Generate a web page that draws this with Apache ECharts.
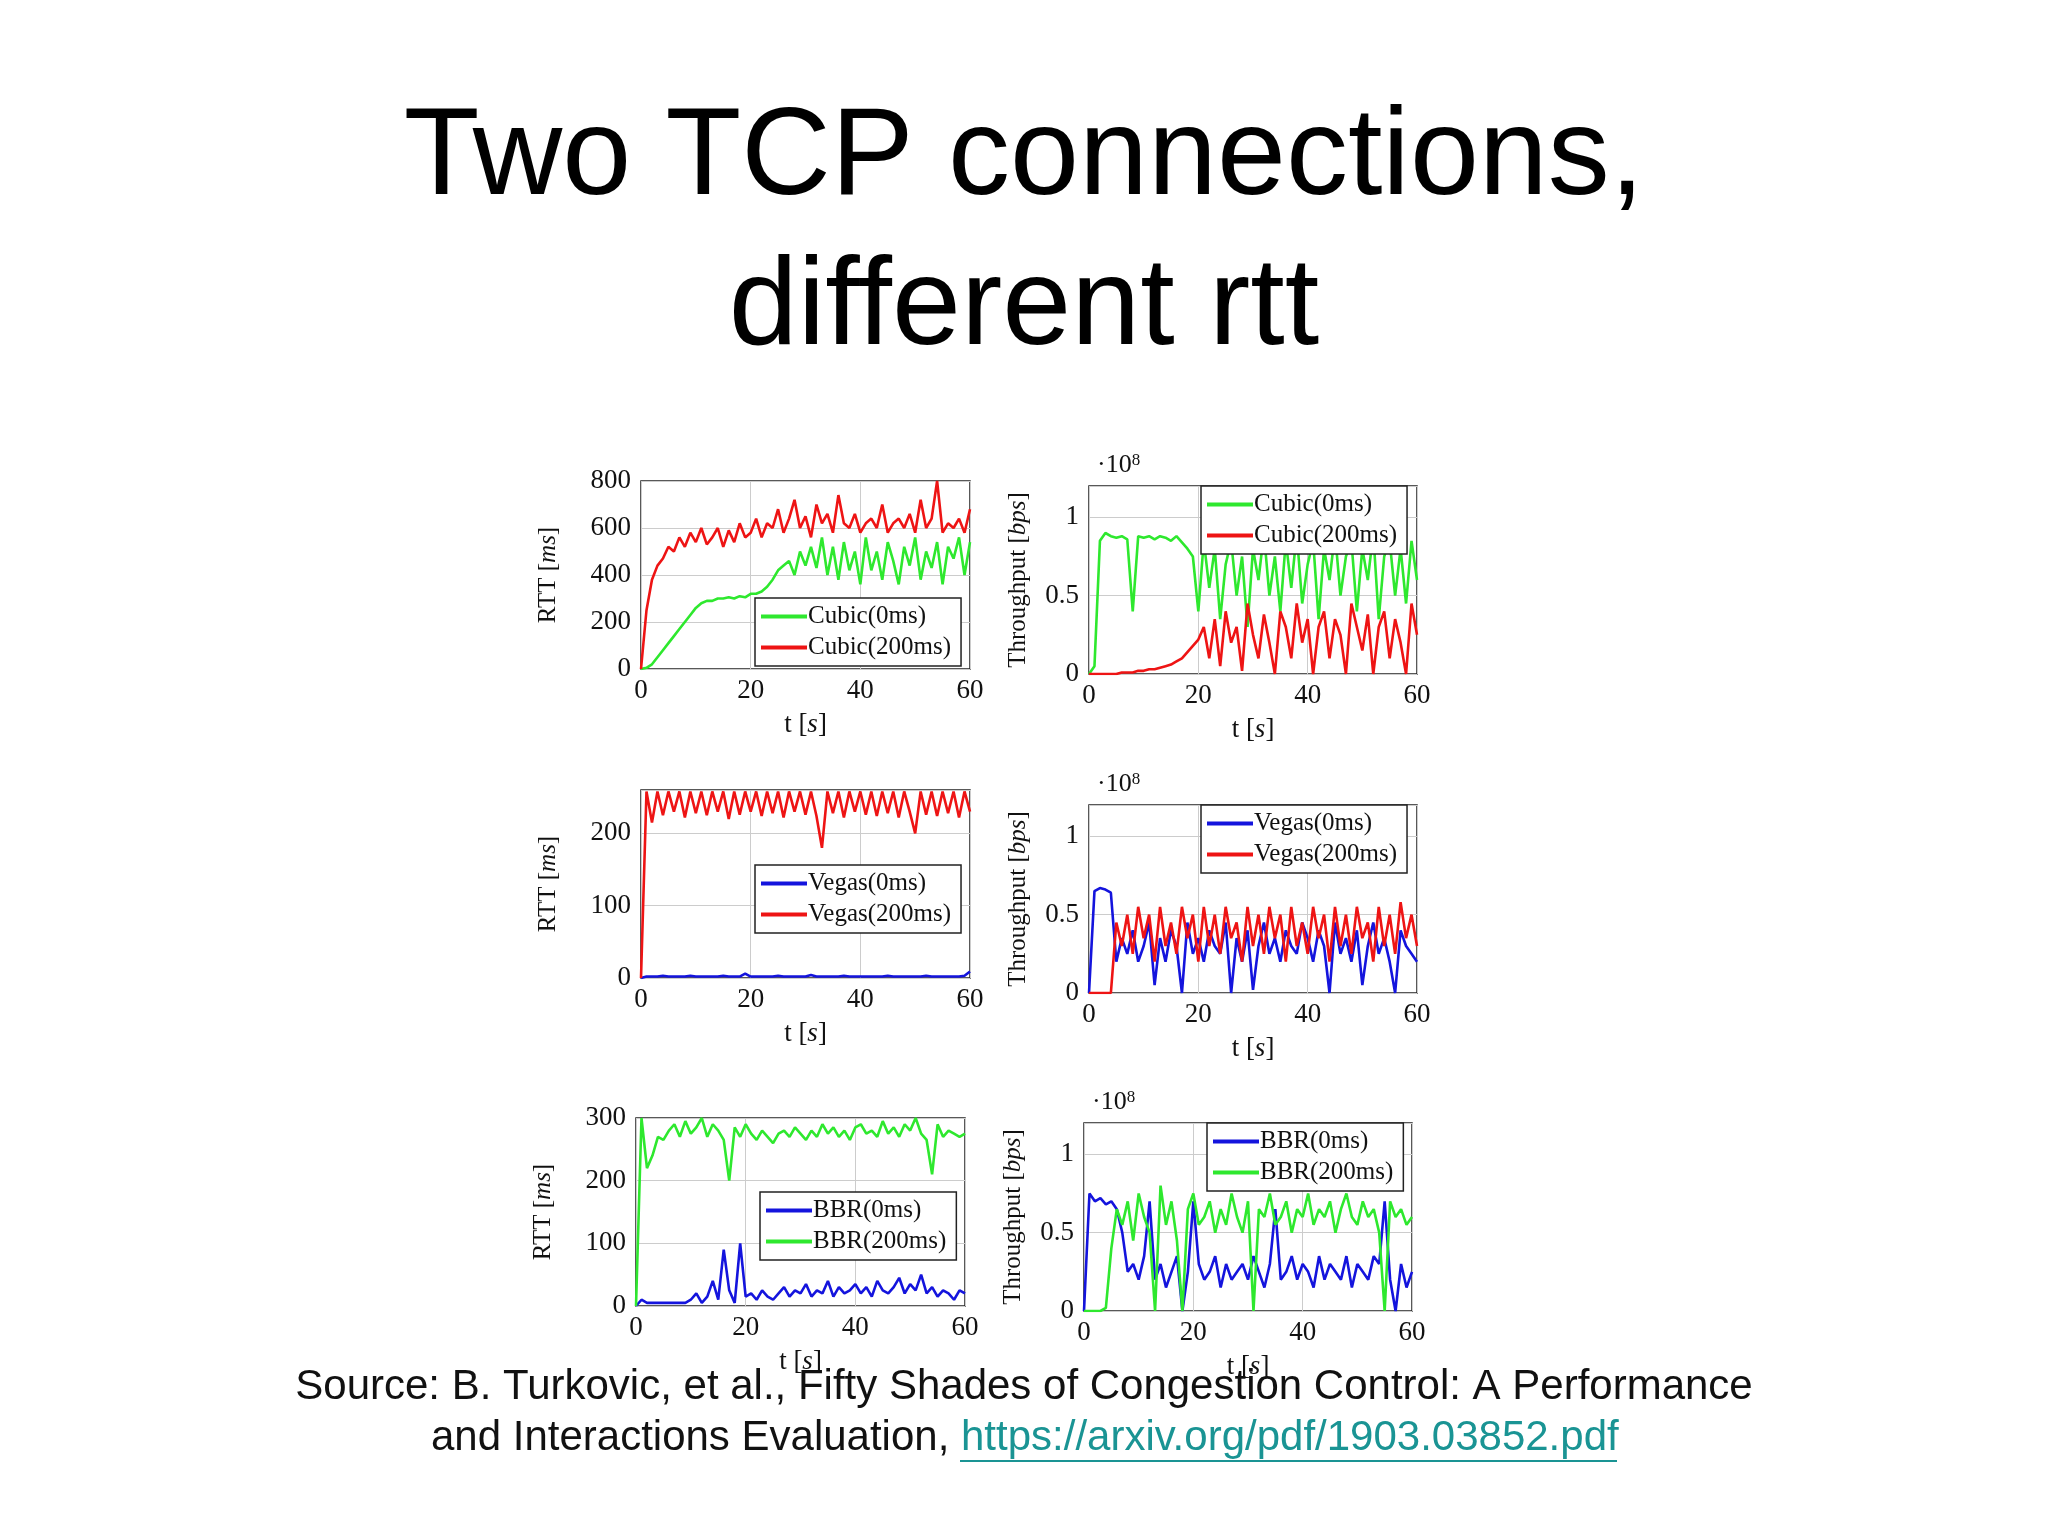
<!DOCTYPE html>
<html><head><meta charset="utf-8">
<script src="https://cdn.jsdelivr.net/npm/echarts@6/dist/echarts.min.js"></script>
<style>html,body{margin:0;padding:0;background:#fff}#c{width:2048px;height:1536px}</style>
</head><body><div id="c"></div>
<script>
const cubic0Rtt=[0,5,20,50,80,110,140,170,200,230,260,280,290,290,300,300,305,300,310,305,320,320,330,350,380,420,440,460,400,500,440,520,430,560,400,520,380,540,420,500,360,560,420,500,380,540,460,360,520,440,560,380,500,430,540,360,520,470,560,400,540];
const cubic200Rtt=[0,250,380,440,470,520,500,560,520,580,540,600,530,560,600,520,590,540,620,560,580,640,560,620,600,680,580,640,720,600,650,560,700,620,660,580,740,620,600,660,580,620,640,600,700,580,620,640,600,660,580,720,600,640,800,580,620,600,640,580,680];
const cubic0Thr=[0,0.05,0.85,0.9,0.88,0.87,0.88,0.86,0.4,0.88,0.87,0.88,0.86,0.88,0.87,0.85,0.88,0.84,0.8,0.75,0.4,0.85,0.55,0.8,0.35,0.7,0.85,0.5,0.75,0.3,0.8,0.6,0.9,0.5,0.75,0.4,0.85,0.55,0.9,0.45,0.7,0.85,0.35,0.8,0.6,0.9,0.5,0.75,0.85,0.4,0.8,0.6,0.9,0.35,0.75,0.85,0.5,0.8,0.45,0.85,0.6];
const cubic200Thr=[0,0,0,0,0,0,0.01,0.01,0.01,0.02,0.02,0.03,0.03,0.04,0.05,0.06,0.08,0.1,0.14,0.18,0.22,0.3,0.1,0.35,0.05,0.4,0.2,0.3,0.02,0.45,0.25,0.1,0.38,0.2,0.0,0.4,0.3,0.1,0.45,0.2,0.35,0.0,0.3,0.4,0.1,0.35,0.25,0.0,0.45,0.3,0.15,0.38,0.0,0.3,0.4,0.1,0.35,0.2,0.0,0.45,0.25];
const vegas0Rtt=[0,2,2,2,3,2,2,2,2,3,2,2,2,2,2,3,2,2,2,6,2,2,2,2,2,3,2,2,2,2,2,4,2,2,2,2,2,3,2,2,2,2,2,2,2,3,2,2,2,2,2,2,3,2,2,2,2,2,2,3,9];
const vegas200Rtt=[0,258,215,258,225,258,230,258,222,258,228,258,225,258,230,258,220,258,226,258,230,258,224,258,228,258,222,258,230,258,226,258,224,180,258,228,258,222,258,230,258,226,258,224,258,228,258,222,258,230,200,258,226,258,224,258,228,258,222,258,230];
const vegas0Thr=[0,0.65,0.67,0.66,0.64,0.2,0.35,0.25,0.4,0.2,0.3,0.45,0.05,0.35,0.2,0.4,0.3,0.0,0.45,0.25,0.35,0.2,0.4,0.3,0.25,0.45,0.0,0.35,0.2,0.4,0.02,0.3,0.45,0.25,0.35,0.2,0.4,0.3,0.25,0.45,0.35,0.2,0.4,0.3,0.0,0.45,0.25,0.35,0.2,0.4,0.05,0.3,0.45,0.25,0.35,0.2,0.0,0.4,0.3,0.25,0.2];
const vegas200Thr=[0,0,0,0,0,0.45,0.3,0.5,0.25,0.55,0.35,0.5,0.2,0.55,0.3,0.45,0.25,0.55,0.35,0.5,0.2,0.55,0.3,0.5,0.25,0.55,0.35,0.45,0.2,0.55,0.3,0.5,0.25,0.55,0.35,0.5,0.2,0.55,0.3,0.45,0.25,0.55,0.35,0.5,0.2,0.55,0.3,0.5,0.25,0.55,0.35,0.45,0.2,0.55,0.3,0.5,0.25,0.58,0.35,0.5,0.3];
const bbr0Rtt=[0,10,5,5,5,5,5,5,5,5,10,20,5,15,40,10,90,25,5,100,15,20,10,25,15,10,20,30,15,25,20,35,15,25,20,40,15,30,20,25,35,20,30,15,40,25,20,30,45,20,35,25,50,20,30,15,25,20,10,25,20];
const bbr200Rtt=[0,300,220,240,270,265,280,290,270,295,275,285,300,270,290,280,265,200,285,270,290,275,265,280,270,260,275,280,270,285,275,265,280,270,290,275,285,270,280,265,285,290,275,280,270,295,275,285,270,290,280,300,275,265,210,290,270,280,275,270,275];
const bbr0Thr=[0,0.75,0.7,0.72,0.68,0.7,0.65,0.5,0.25,0.3,0.2,0.35,0.7,0.2,0.3,0.15,0.25,0.35,0.0,0.25,0.7,0.3,0.2,0.25,0.35,0.15,0.3,0.2,0.25,0.3,0.2,0.35,0.25,0.15,0.3,0.65,0.2,0.25,0.35,0.2,0.3,0.25,0.15,0.35,0.2,0.3,0.25,0.2,0.35,0.15,0.3,0.25,0.2,0.35,0.3,0.7,0.2,0.0,0.3,0.15,0.25];
const bbr200Thr=[0,0,0,0,0.02,0.4,0.65,0.55,0.7,0.45,0.75,0.6,0.5,0.0,0.8,0.55,0.7,0.45,0.0,0.65,0.75,0.55,0.6,0.7,0.5,0.65,0.55,0.75,0.6,0.5,0.7,0.0,0.65,0.6,0.75,0.55,0.6,0.7,0.5,0.65,0.6,0.75,0.55,0.65,0.6,0.7,0.5,0.65,0.75,0.6,0.55,0.7,0.6,0.65,0.5,0.0,0.7,0.6,0.65,0.55,0.6];

const G='#2ee82e',R='#ee1414',B='#1414dd';
const SERIF='Liberation Serif';
const panels=[
 {g:[641,481,329,188],ymax:800,yint:200,thr:false,s:[['Cubic(0ms)',cubic0Rtt,G],['Cubic(200ms)',cubic200Rtt,R]],lg:[755,598]},
 {g:[1089,486,328,188],ymax:1.2,yint:0.5,thr:true,s:[['Cubic(0ms)',cubic0Thr,G],['Cubic(200ms)',cubic200Thr,R]],lg:[1201,486]},
 {g:[641,790,329,188],ymax:260,yint:100,thr:false,s:[['Vegas(0ms)',vegas0Rtt,B],['Vegas(200ms)',vegas200Rtt,R]],lg:[755,865]},
 {g:[1089,805,328,188],ymax:1.2,yint:0.5,thr:true,s:[['Vegas(0ms)',vegas0Thr,B],['Vegas(200ms)',vegas200Thr,R]],lg:[1201,805]},
 {g:[636,1118,329,188],ymax:300,yint:100,thr:false,s:[['BBR(0ms)',bbr0Rtt,B],['BBR(200ms)',bbr200Rtt,G]],lg:[760,1192]},
 {g:[1084,1123,328,188],ymax:1.2,yint:0.5,thr:true,s:[['BBR(0ms)',bbr0Thr,B],['BBR(200ms)',bbr200Thr,G]],lg:[1207,1123]}
];
const grid=[],xAxis=[],yAxis=[],series=[],legend=[],graphic=[];
const lab={fontFamily:SERIF,fontSize:27,color:'#111'};
panels.forEach((p,i)=>{
 grid.push({left:p.g[0],top:p.g[1],width:p.g[2],height:p.g[3],show:true,borderColor:'#222',borderWidth:1.5});
 xAxis.push({gridIndex:i,type:'value',min:0,max:60,interval:20,
  axisLine:{show:false},axisTick:{show:false},
  axisLabel:{...lab,margin:8},splitLine:{show:true,lineStyle:{color:'#ccc',width:1}},
  name:'t [{i|s}]',nameLocation:'middle',nameGap:42,
  nameTextStyle:{...lab,rich:{i:{fontFamily:SERIF,fontStyle:'italic',fontSize:27}}}});
 yAxis.push({gridIndex:i,type:'value',min:0,max:p.ymax,interval:p.yint,
  axisLine:{show:false},axisTick:{show:false},
  axisLabel:{...lab,margin:10,showMaxLabel:!p.thr&&p.ymax%p.yint===0},
  splitLine:{show:true,lineStyle:{color:'#ccc',width:1}},
  name:p.thr?'Throughput [{i|bps}]':'RTT [{i|ms}]',nameLocation:'middle',nameGap:p.thr?58:80,nameRotate:90,
  nameTextStyle:{...lab,fontSize:25,rich:{i:{fontFamily:SERIF,fontStyle:'italic',fontSize:25}}}});
 const names=[];
 p.s.forEach(([n,d,c])=>{
  names.push(n);
  series.push({type:'line',name:n,xAxisIndex:i,yAxisIndex:i,showSymbol:false,symbol:'none',
   data:d.map((v,k)=>[k,v]),lineStyle:{color:c,width:2.6},itemStyle:{color:c},animation:false});
 });
 legend.push({data:names,left:p.lg[0],top:p.lg[1],orient:'vertical',itemGap:6,itemWidth:46,itemHeight:4,
  icon:'rect',backgroundColor:'#fff',borderColor:'#222',borderWidth:1.5,borderRadius:0,padding:[6,10,6,6],
  textStyle:{fontFamily:SERIF,fontSize:25,color:'#111',padding:[0,0,0,-4]},selectedMode:false});
 if(p.thr){
  graphic.push({type:'text',left:p.g[0]+8,top:p.g[1]-34,style:{text:'·10{s|8}',fontFamily:SERIF,fontSize:26,fill:'#111',
   rich:{s:{fontFamily:SERIF,fontSize:17,verticalAlign:'top',padding:[0,0,10,0]}}}});
 }
});
graphic.push({type:'text',left:'center',top:98,style:{text:'Two TCP connections,',fontFamily:'Liberation Sans',fontSize:124,fill:'#000',align:'center'}});
graphic.push({type:'text',left:'center',top:248,style:{text:'different rtt',fontFamily:'Liberation Sans',fontSize:124,fill:'#000',align:'center'}});
graphic.push({type:'text',left:'center',top:1366,style:{text:'Source: B. Turkovic, et al., Fifty Shades of Congestion Control: A Performance',fontFamily:'Liberation Sans',fontSize:42,fill:'#111'}});
graphic.push({type:'text',left:431,top:1417,style:{text:'and Interactions Evaluation, {l|https://arxiv.org/pdf/1903.03852.pdf}',fontFamily:'Liberation Sans',fontSize:42,fill:'#111',
 rich:{l:{fontFamily:'Liberation Sans',fontSize:42,fill:'#1a9494',color:'#1a9494'}}}});
graphic.push({type:'line',shape:{x1:960,y1:1461,x2:1617,y2:1461},style:{stroke:'#1a9494',lineWidth:2}});
const chart=echarts.init(document.getElementById('c'));
chart.setOption({animation:false,backgroundColor:'#fff',grid,xAxis,yAxis,series,legend,graphic});
</script></body></html>
